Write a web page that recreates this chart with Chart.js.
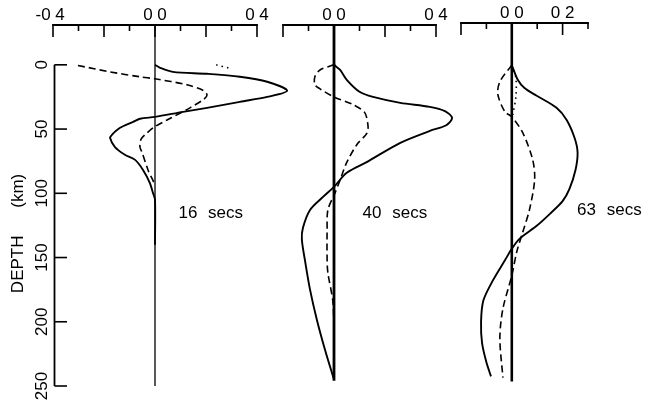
<!DOCTYPE html>
<html>
<head>
<meta charset="utf-8">
<script src="https://cdn.jsdelivr.net/npm/chart.js@4.4.1/dist/chart.umd.min.js"></script>
<style>
  html, body { margin: 0; padding: 0; background: #fff; }
  #wrap { position: relative; width: 647px; height: 406px; background: #fff; }
  canvas { position: absolute; left: 0; top: 0; width: 647px; height: 406px; }
</style>
</head>
<body>
<div id="wrap">
  <canvas id="p16" width="647" height="406"></canvas>
  <canvas id="p40" width="647" height="406"></canvas>
  <canvas id="p63" width="647" height="406"></canvas>
</div>
<script>
// ---- 16 s period: partial derivatives versus depth (km) ----
const p16SolidVal = [0, 0.02, 0.07, 0.204, 0.333, 0.44, 0.518, 0.44, 0.333, 0.204, 0.11, 0, -0.059, -0.086, -0.137, -0.169, -0.176, -0.157, -0.118, -0.078, -0.047, -0.02, -0.008, 0, 0];
const p16SolidDep = [0, 2.3, 5.5, 7, 9.3, 13.2, 20.2, 25, 28.8, 33.5, 36.6, 40.5, 42, 44.4, 49, 54.5, 57, 64, 70, 74, 81.8, 92, 99.7, 105, 140];
const p16DashVal = [-0.302, -0.176, -0.059, 0, 0.125, 0.19, 0.204, 0.19, 0.137, 0.047, 0, -0.031, -0.055, -0.059, -0.051, -0.027, -0.008, 0];
const p16DashDep = [0.5, 5.5, 9.3, 10.9, 15.5, 20, 23.4, 27, 33.5, 43, 48, 53, 58, 64, 68, 82, 90, 94];
const p16DotVal = [0.24, 0.29];
const p16DotDep = [0, 2.5];

// ---- 40 s period ----
const p40SolidVal = [0, 0.024, 0.05, 0.1, 0.153, 0.26, 0.376, 0.435, 0.463, 0.44, 0.376, 0.26, 0.13, 0.05, 0, -0.043, -0.094, -0.122, -0.126, -0.114, -0.094, -0.067, -0.035, 0];
const p40SolidDep = [0, 4, 11.7, 21, 25, 29.6, 32.7, 36, 41.3, 47, 51.4, 60.7, 75.5, 84, 95, 102.8, 113, 127, 136, 152, 175, 198.6, 222, 245];
const p40DashVal = [0, -0.055, -0.075, -0.075, -0.055, 0, 0.075, 0.12, 0.133, 0.13, 0.09, 0.05, 0.024, 0.004, -0.024, -0.027, -0.027, -0.024, -0.004, 0, 0];
const p40DashDep = [0, 4, 9.3, 15.5, 18.7, 25, 31, 37, 46.7, 53, 62, 76, 89.6, 99.7, 113, 128.5, 152, 162, 185, 216, 245];

// ---- 63 s period ----
const p63SolidVal = [0, 0.024, 0.05, 0.098, 0.176, 0.216, 0.247, 0.259, 0.251, 0.227, 0.2, 0.149, 0.098, 0.031, 0, -0.027, -0.075, -0.112, -0.121, -0.117, -0.1, -0.082];
const p63SolidDep = [0, 11.7, 18, 24, 33.5, 43, 57, 68.5, 82, 97, 106.7, 116.8, 126, 136, 144, 153, 169, 184.6, 201, 218, 233, 244];
const p63DashVal = [0, -0.047, -0.055, -0.027, 0, 0.043, 0.082, 0.09, 0.07, 0.043, 0.02, 0, -0.035, -0.047, -0.035];
const p63DashDep = [0, 13, 23, 36.6, 40.5, 53, 74, 89.6, 113, 131, 146, 165, 191, 214, 245];
const p63DotVal = [0, 0.016, 0.016, 0.004];
const p63DotDep = [0, 10, 25, 39];

// ---- axes: ticks and labels ----
const ticks16 = [-0.4, -0.3, -0.2, -0.1, 0, 0.1, 0.2, 0.3, 0.4];
const major16 = [-0.4, -0.2, 0, 0.2, 0.4];
const labelVals16 = [-0.4, 0, 0.4];
const labels16 = ['-0 4', '0 0', '0 4'];

const ticks40 = [-0.2, -0.1, 0, 0.1, 0.2, 0.3, 0.4];
const major40 = [-0.2, 0, 0.2, 0.4];
const labelVals40 = [0, 0.4];
const labels40 = ['0 0', '0 4'];

const ticks63 = [-0.2, -0.1, 0, 0.1, 0.2, 0.3];
const major63 = [-0.2, 0, 0.2];
const labelVals63 = [0, 0.2];
const labels63 = ['0 0', '0 2'];

const depthTicks = [0, 50, 100, 150, 200, 250];
const depthLabels = ['0', '50', '100', '150', '200', '250'];
const depthTitle = ['DEPTH', '(km)'];
const periodLabels = ['16 secs', '40 secs', '63 secs'];

const FONT = '17px "Liberation Sans", Arial, Helvetica, sans-serif';

// Draws the top value axis (ticks hanging down), the depth axis and the captions
const panelAxes = {
  id: 'panelAxes',
  afterDatasetsDraw(chart, args, o) {
    const { ctx, chartArea: ca, scales: { x, y } } = chart;
    ctx.save();
    ctx.strokeStyle = '#000';
    ctx.fillStyle = '#000';
    ctx.font = FONT;
    const top = ca.top;

    ctx.lineWidth = 1.8;
    ctx.lineCap = 'square';
    ctx.beginPath();
    ctx.moveTo(x.getPixelForValue(x.min), top);
    ctx.lineTo(x.getPixelForValue(x.max), top);
    ctx.stroke();

    ctx.lineCap = 'butt';
    ctx.lineWidth = 1.6;
    o.ticks.forEach(v => {
      const px = x.getPixelForValue(v);
      const len = o.major.includes(v) ? 12 : 6;
      ctx.beginPath();
      ctx.moveTo(px, top);
      ctx.lineTo(px, top + len);
      ctx.stroke();
    });

    ctx.textAlign = 'left';
    ctx.textBaseline = 'alphabetic';
    o.labelValues.forEach((v, i) => {
      const s = o.labels[i];
      const gap = s.indexOf(' ');
      const anchor = gap < 0
        ? ctx.measureText(s).width / 2
        : ctx.measureText(s.slice(0, gap)).width + ctx.measureText(' ').width / 2;
      ctx.fillText(s, x.getPixelForValue(v) - anchor, top - 5);
    });

    if (o.depth) {
      const d = o.depth;
      const ax = x.getPixelForValue(x.min) + 1.5;
      ctx.lineWidth = 1.8;
      ctx.beginPath();
      ctx.moveTo(ax, y.getPixelForValue(d.ticks[0]));
      ctx.lineTo(ax, y.getPixelForValue(d.ticks[d.ticks.length - 1]));
      ctx.stroke();
      ctx.lineWidth = 1.6;
      d.ticks.forEach((v, i) => {
        const py = y.getPixelForValue(v);
        ctx.beginPath();
        ctx.moveTo(ax, py);
        ctx.lineTo(ax + 12.5, py);
        ctx.stroke();
        ctx.save();
        ctx.translate(ax - 7.5, py);
        ctx.rotate(-Math.PI / 2);
        ctx.textAlign = 'center';
        ctx.fillText(d.labels[i], 0, 0);
        ctx.restore();
      });
      d.title.forEach((t, i) => {
        ctx.save();
        ctx.translate(ax - 31.5, y.getPixelForValue(d.titleAt[i]));
        ctx.rotate(-Math.PI / 2);
        ctx.textAlign = 'center';
        ctx.fillText(t, 0, 0);
        ctx.restore();
      });
    }

    if (o.caption) {
      ctx.textAlign = 'left';
      ctx.textBaseline = 'alphabetic';
      try { ctx.wordSpacing = '6px'; } catch (e) {}
      ctx.fillText(o.caption, x.getPixelForValue(o.captionAt[0]), y.getPixelForValue(o.captionAt[1]));
    }
    ctx.restore();
  }
};

const SOLID = { borderWidth: 1.9 };
const DASHED = { borderWidth: 1.6, borderDash: [7, 4] };
const DOTTED = { borderWidth: 1.6, borderDash: [1.5, 4] };

function curve(vals, deps, style) {
  return Object.assign({
    data: vals.map((v, i) => ({ x: v, y: deps[i] })),
    showLine: true,
    pointRadius: 0,
    borderColor: '#000',
    backgroundColor: '#000',
    fill: false,
    clip: false,
    tension: 0.3
  }, style);
}

function zeroLine(fromDepth, toDepth, width) {
  return curve([0, 0], [fromDepth, toDepth], { borderWidth: width, tension: 0 });
}

function makePanel(id, cfg) {
  return new Chart(document.getElementById(id), {
    type: 'scatter',
    data: { datasets: cfg.datasets },
    options: {
      responsive: false,
      animation: false,
      devicePixelRatio: 1,
      events: [],
      layout: { padding: cfg.padding },
      plugins: {
        legend: { display: false },
        tooltip: { enabled: false },
        panelAxes: cfg.axes
      },
      scales: {
        x: { type: 'linear', display: false, min: cfg.xRange[0], max: cfg.xRange[1] },
        y: { type: 'linear', display: false, min: cfg.yRange[0], max: cfg.yRange[1], reverse: true }
      }
    },
    plugins: [panelAxes]
  });
}

const yRange12 = [-31, 250];
const yRange3 = [-33, 250];

makePanel('p16', {
  padding: { left: 53, right: 390, top: 25, bottom: 20 },
  xRange: [-0.4, 0.4],
  yRange: yRange12,
  datasets: [
    zeroLine(yRange12[0], 250, 1.3),
    curve(p16SolidVal, p16SolidDep, SOLID),
    curve(p16DashVal, p16DashDep, DASHED),
    curve(p16DotVal, p16DotDep, DOTTED)
  ],
  axes: {
    ticks: ticks16, major: major16, labelValues: labelVals16, labels: labels16,
    depth: { ticks: depthTicks, labels: depthLabels, title: depthTitle, titleAt: [155.3, 98] },
    caption: periodLabels[0], captionAt: [0.092, 119.2]
  }
});

makePanel('p40', {
  padding: { left: 283, right: 211, top: 25, bottom: 20 },
  xRange: [-0.2, 0.4],
  yRange: yRange12,
  datasets: [
    zeroLine(yRange12[0], 246, 2.8),
    curve(p40SolidVal, p40SolidDep, SOLID),
    curve(p40DashVal, p40DashDep, DASHED)
  ],
  axes: {
    ticks: ticks40, major: major40, labelValues: labelVals40, labels: labels40,
    caption: periodLabels[1], captionAt: [0.112, 119.2]
  }
});

makePanel('p63', {
  padding: { left: 461, right: 59, top: 23, bottom: 22 },
  xRange: [-0.2, 0.3],
  yRange: yRange3,
  datasets: [
    zeroLine(yRange3[0], 248, 2.6),
    curve(p63SolidVal, p63SolidDep, SOLID),
    curve(p63DashVal, p63DashDep, DASHED),
    curve(p63DotVal, p63DotDep, DOTTED)
  ],
  axes: {
    ticks: ticks63, major: major63, labelValues: labelVals63, labels: labels63,
    caption: periodLabels[2], captionAt: [0.257, 117.5]
  }
});
</script>
</body>
</html>
